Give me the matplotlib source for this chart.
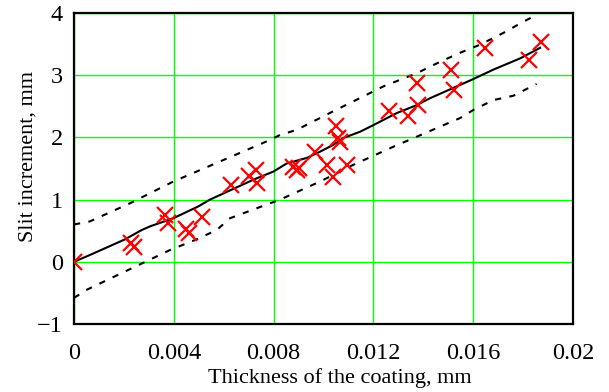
import matplotlib
matplotlib.use("Agg")
import matplotlib.pyplot as plt

# Measured data (red crosses)
x_data = [0, 0.0023, 0.0024, 0.00365, 0.00378, 0.0045, 0.0046, 0.00512, 0.00628,
          0.00703, 0.00729, 0.00732, 0.00879, 0.00895, 0.00903, 0.00966, 0.01013,
          0.01037, 0.0105, 0.0106, 0.01066, 0.01095, 0.01264, 0.0134, 0.0138,
          0.01373, 0.0151, 0.01523, 0.01647, 0.01825, 0.01871]
y_data = [0, 0.30, 0.24, 0.76, 0.62, 0.52, 0.46, 0.72, 1.24,
          1.38, 1.48, 1.27, 1.53, 1.48, 1.51, 1.77, 1.56,
          1.37, 2.19, 1.99, 1.93, 1.56, 2.42, 2.34, 2.52,
          2.88, 3.09, 2.77, 3.44, 3.25, 3.54]

# Smoothed fit (solid line)
fit_x = [0, 0.00064, 0.00204, 0.00271, 0.00305, 0.00398, 0.00498, 0.00545, 0.00719,
         0.00799, 0.00852, 0.00933, 0.00986, 0.01039, 0.01079, 0.01146, 0.01196,
         0.01293, 0.01374, 0.01427, 0.01534, 0.01596, 0.01681, 0.01788, 0.01868]
fit_y = [0, 0.11, 0.36, 0.51, 0.57, 0.70, 0.89, 1.00, 1.32,
         1.45, 1.58, 1.67, 1.77, 1.88, 1.99, 2.09, 2.19,
         2.39, 2.52, 2.63, 2.82, 2.93, 3.09, 3.27, 3.44]

# Upper confidence band (dashed)
upper_x = [0, 0.00064, 0.00224, 0.00398, 0.00572, 0.00786, 0.00826, 0.00892, 0.01039,
           0.0112, 0.0124, 0.01373, 0.01454, 0.01547, 0.01627, 0.01721, 0.01801, 0.01854]
upper_y = [0.60, 0.65, 0.94, 1.29, 1.59, 1.96, 2.04, 2.12, 2.42,
           2.58, 2.82, 3.03, 3.19, 3.36, 3.49, 3.68, 3.86, 3.97]

# Lower confidence band (dashed)
lower_x = [0, 0.00051, 0.00218, 0.00385, 0.00485, 0.00572, 0.00625, 0.00772, 0.00826,
           0.00986, 0.0112, 0.0128, 0.01373, 0.01454, 0.01547, 0.016, 0.01681, 0.01761, 0.01854]
lower_y = [-0.58, -0.45, -0.13, 0.19, 0.35, 0.51, 0.70, 0.92, 1.0,
           1.29, 1.56, 1.85, 2.01, 2.15, 2.31, 2.44, 2.60, 2.67, 2.86]

x_ticks = [0, 0.004, 0.008, 0.012, 0.016, 0.02]
x_tick_labels = ["0", "0.004", "0.008", "0.012", "0.016", "0.02"]
y_ticks = [-1, 0, 1, 2, 3, 4]
y_tick_labels = ["\u22121", "0", "1", "2", "3", "4"]

plt.rcParams['font.family'] = ['Liberation Serif', 'DejaVu Serif']

fig = plt.figure(figsize=(6.09, 3.92), dpi=100)
ax = fig.add_axes([74/609, 68/392, 499/609, 311/392])

ax.plot(fit_x, fit_y, color='black', lw=1.5, zorder=3)
ax.plot(upper_x, upper_y, color='black', lw=1.5, ls=(0, (3, 4)), zorder=3)
ax.plot(lower_x, lower_y, color='black', lw=1.5, ls=(0, (3, 4)), zorder=3)
ax.plot(x_data, y_data, ls='none', marker='x', color='red', ms=11.5, mew=1.6, zorder=4)

ax.set_xlim(0, 0.02)
ax.set_ylim(-1, 4)
ax.set_xticks(x_ticks)
ax.set_xticklabels(x_tick_labels)
ax.set_yticks(y_ticks)
ax.set_yticklabels(y_tick_labels)
ax.grid(True, color='#00ff00', lw=1.0, zorder=0)
ax.set_axisbelow(True)
ax.tick_params(length=0, labelsize=17.5)
ax.tick_params(axis='x', pad=14)
ax.tick_params(axis='y', pad=8)
for s in ax.spines.values():
    s.set_linewidth(1.6)
    s.set_color('black')

ax.set_xlabel("Thickness of the coating, mm", fontsize=16, va='center')
ax.xaxis.set_label_coords(0.533, -0.174)
ax.set_ylabel("Slit increment, mm", fontsize=16, va='center')
ax.yaxis.set_label_coords(-0.092, 0.537)

fig.savefig("out.png", dpi=100)
